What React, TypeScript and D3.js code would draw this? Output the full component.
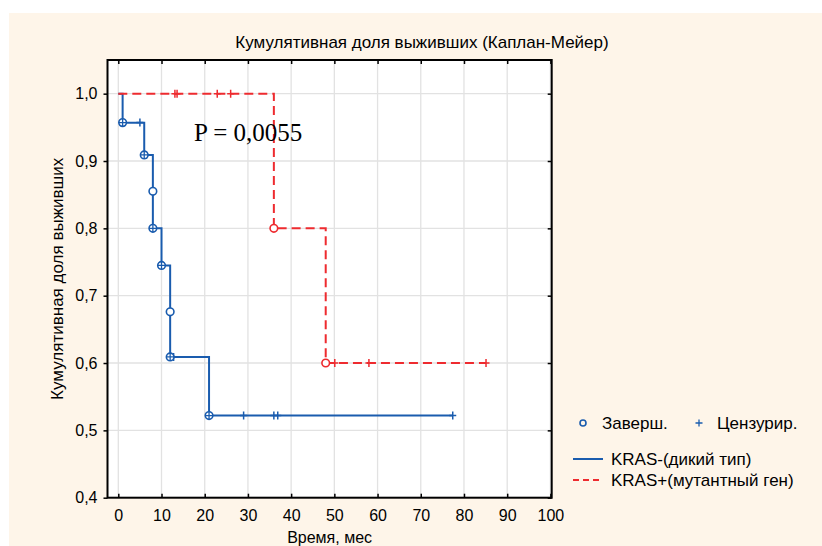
import { useEffect, useRef } from 'react';
import * as d3 from 'd3';

// axis ticks
const xTicks = [0, 10, 20, 30, 40, 50, 60, 70, 80, 90, 100];
const yTicks = [0.4, 0.5, 0.6, 0.7, 0.8, 0.9, 1.0];

// KRAS- (wild type): event times and survival after each event
const wildEventTimes = [1, 6, 8, 8, 10, 12, 12, 21];
const wildEventSurv = [0.957, 0.909, 0.855, 0.8, 0.745, 0.676, 0.609, 0.522];
const wildCensorTimes = [5, 6.5, 12.8, 29, 36, 36.9, 77.4];

// KRAS+ (mutant)
const mutEventTimes = [36, 48];
const mutEventSurv = [0.8, 0.6];
const mutCensorTimes = [13.1, 13.6, 22.9, 26, 50.1, 58, 85.1];

const BLUE = '#1a5cae';
const RED = '#ee2b2f';
const FONT = "'Liberation Sans', Arial, sans-serif";

function App() {
    const svgRef = useRef<SVGSVGElement>(null);

    useEffect(() => {
        document.body.style.margin = '0';
        const svg = d3.select(svgRef.current);
        svg.selectAll('*').remove();

        const left = 107.5, right = 551.7, top = 60, bottom = 497.7;

        svg.append('rect').attr('x', 0).attr('y', 0).attr('width', 822).attr('height', 546).attr('fill', '#fff');
        svg.append('rect').attr('x', 9).attr('y', 13).attr('width', 813).attr('height', 533).attr('fill', '#fef5e9');
        svg.append('rect').attr('x', left).attr('y', top).attr('width', right - left).attr('height', bottom - top).attr('fill', '#fff');

        const x = d3.scaleLinear().domain([-2.5, 100.3]).range([left, right]);
        const y = d3.scaleLinear().domain([0.4, 1.05]).range([bottom, top]);
        const fmt = (d: number) => d.toFixed(1).replace('.', ',');

        // grid
        const grid = svg.append('g');
        grid.selectAll('line.gx').data(xTicks).join('line')
            .attr('x1', d => x(d)).attr('x2', d => x(d)).attr('y1', top).attr('y2', bottom)
            .attr('stroke', '#e2e2e2').attr('stroke-width', 1.3);
        grid.selectAll('line.gy').data(yTicks.slice(1)).join('line')
            .attr('y1', d => y(d)).attr('y2', d => y(d)).attr('x1', left).attr('x2', right)
            .attr('stroke', '#e2e2e2').attr('stroke-width', 1.3);

        // axes
        const axB = svg.append('g').attr('transform', `translate(0,${bottom})`)
            .call(d3.axisBottom(x).tickValues(xTicks).tickSize(-4).tickPadding(12).tickFormat(d => String(d)));
        const axT = svg.append('g').attr('transform', `translate(0,${top})`)
            .call(d3.axisTop(x).tickValues(xTicks).tickSize(-4).tickFormat(() => ''));
        const axL = svg.append('g').attr('transform', `translate(${left},0)`)
            .call(d3.axisLeft(y).tickValues(yTicks).tickSize(4).tickPadding(6).tickFormat(d => fmt(d as number)));
        const axR = svg.append('g').attr('transform', `translate(${right},0)`)
            .call(d3.axisRight(y).tickValues(yTicks).tickSize(-4).tickFormat(() => ''));
        [axB, axT, axL, axR].forEach(a => {
            a.select('.domain').remove();
            a.selectAll('line').attr('stroke', '#000').attr('stroke-width', 1.5);
            a.selectAll('text').attr('font-family', FONT).attr('font-size', 16).attr('fill', '#000');
        });
        svg.append('rect').attr('x', left).attr('y', top).attr('width', right - left).attr('height', bottom - top)
            .attr('fill', 'none').attr('stroke', '#000').attr('stroke-width', 2);

        const stepLine = d3.line<[number, number]>().x(d => x(d[0])).y(d => y(d[1])).curve(d3.curveStepAfter);
        const survAt = (times: number[], surv: number[], t: number) => {
            let s = 1;
            times.forEach((et, i) => { if (et <= t) s = surv[i]; });
            return s;
        };
        const curvePoints = (times: number[], surv: number[], censors: number[]): [number, number][] => {
            const end = Math.max(d3.max(times) || 0, d3.max(censors) || 0);
            const pts: [number, number][] = [[0, 1]];
            times.forEach((t, i) => pts.push([t, surv[i]]));
            pts.push([end, survAt(times, surv, end)]);
            return pts;
        };

        const drawGroup = (times: number[], surv: number[], censors: number[], color: string, dash: string | null, cornerPlus: boolean) => {
            const g = svg.append('g');
            g.append('path').datum(curvePoints(times, surv, censors))
                .attr('d', stepLine).attr('fill', 'none').attr('stroke', color)
                .attr('stroke-width', 2).attr('stroke-dasharray', dash);
            censors.forEach(t => {
                const cx = x(t), cy = y(survAt(times, surv, t));
                g.append('path').attr('d', `M${cx - 3.5},${cy}H${cx + 3.5}M${cx},${cy - 4}V${cy + 4}`)
                    .attr('stroke', color).attr('stroke-width', 1.5).attr('fill', 'none');
            });
            times.forEach((t, i) => {
                const cx = x(t), cy = y(surv[i]);
                g.append('circle').attr('cx', cx).attr('cy', cy).attr('r', 3.8)
                    .attr('fill', '#fff').attr('stroke', color).attr('stroke-width', 1.6);
                if (cornerPlus && times[i + 1] !== t) {
                    g.append('path').attr('d', `M${cx - 3.8},${cy}H${cx + 3.8}M${cx},${cy - 3.8}V${cy + 3.8}`)
                        .attr('stroke', color).attr('stroke-width', 1.3);
                }
            });
        };
        drawGroup(wildEventTimes, wildEventSurv, wildCensorTimes, BLUE, null, true);
        drawGroup(mutEventTimes, mutEventSurv, mutCensorTimes, RED, '9,5', false);

        // texts
        svg.append('text').attr('x', 422).attr('y', 48).attr('text-anchor', 'middle')
            .attr('font-family', FONT).attr('font-size', 17).text('Кумулятивная доля выживших (Каплан-Мейер)');
        svg.append('text').attr('x', (left + right) / 2).attr('y', 543).attr('text-anchor', 'middle')
            .attr('font-family', FONT).attr('font-size', 16).text('Время, мес');
        svg.append('text').attr('transform', `translate(63,${(top + bottom) / 2}) rotate(-90)`).attr('text-anchor', 'middle')
            .attr('font-family', FONT).attr('font-size', 17).text('Кумулятивная доля выживших');
        svg.append('text').attr('x', 194).attr('y', 140.5)
            .attr('font-family', "'Liberation Serif', 'Times New Roman', serif").attr('font-size', 25).text('P = 0,0055');

        // legend
        const lg = svg.append('g').attr('font-family', FONT).attr('font-size', 17);
        lg.append('circle').attr('cx', 583).attr('cy', 423).attr('r', 3).attr('fill', 'none').attr('stroke', BLUE).attr('stroke-width', 1.6);
        lg.append('text').attr('x', 602).attr('y', 429).text('Заверш.');
        lg.append('path').attr('d', 'M695.5,423H702.5M699,419.5V426.5').attr('stroke', BLUE).attr('stroke-width', 1.3);
        lg.append('text').attr('x', 717).attr('y', 429).text('Цензурир.');
        lg.append('line').attr('x1', 573).attr('x2', 603).attr('y1', 459).attr('y2', 459).attr('stroke', BLUE).attr('stroke-width', 2);
        lg.append('text').attr('x', 611).attr('y', 465).text('KRAS-(дикий тип)');
        lg.append('line').attr('x1', 573).attr('x2', 603).attr('y1', 480).attr('y2', 480).attr('stroke', RED).attr('stroke-width', 2).attr('stroke-dasharray', '6,4');
        lg.append('text').attr('x', 611).attr('y', 486).text('KRAS+(мутантный ген)');
    }, []);

    return <svg ref={svgRef} width={822} height={546} style={{ display: 'block' }} />;
}

export default App;
